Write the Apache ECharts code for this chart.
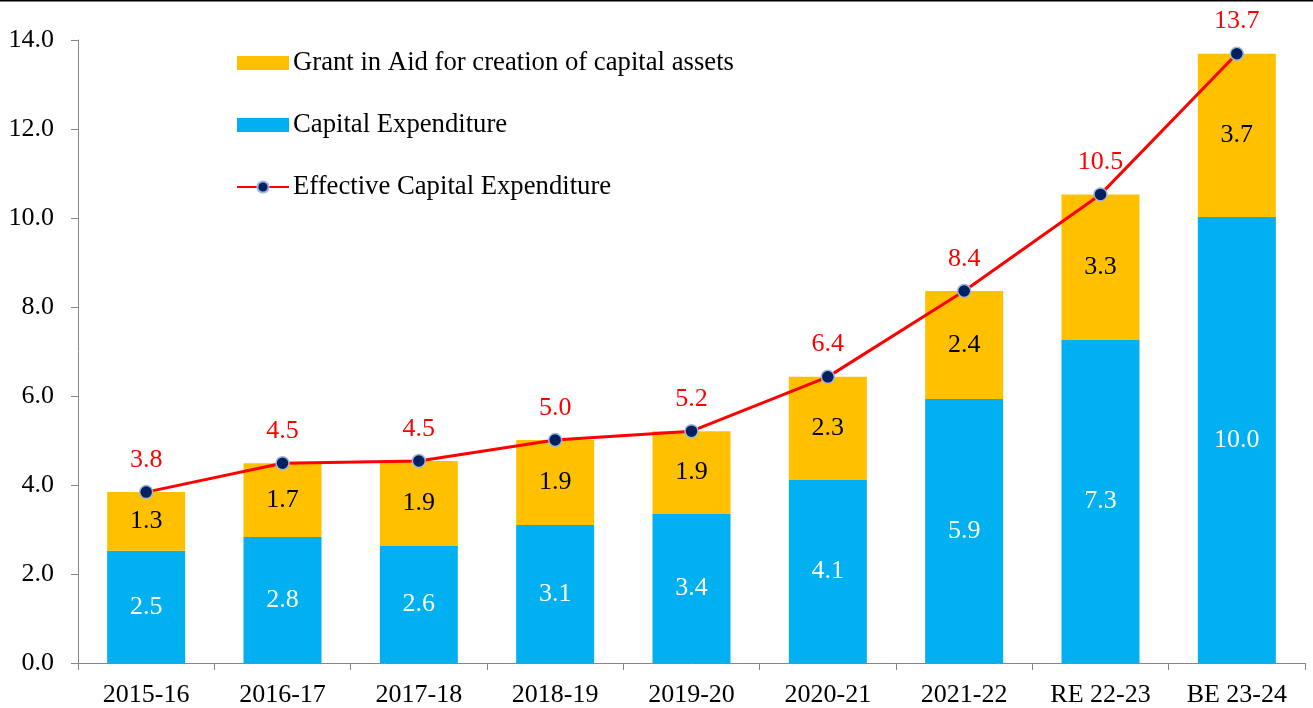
<!DOCTYPE html>
<html>
<head>
<meta charset="utf-8">
<script src="https://cdn.jsdelivr.net/npm/echarts@6/dist/echarts.min.js"></script>
<style>
  html, body { margin: 0; padding: 0; background: #fff; }
  #chart { width: 1313px; height: 708px; }
</style>
</head>
<body>
<div id="chart"></div>
<script>
const years = ['2015-16', '2016-17', '2017-18', '2018-19', '2019-20', '2020-21', '2021-22', 'RE 22-23', 'BE 23-24']
const capitalExp = [2.52, 2.83, 2.63, 3.10, 3.35, 4.11, 5.93, 7.27, 10.02]
const grantInAid = [1.32, 1.66, 1.91, 1.91, 1.86, 2.32, 2.43, 3.26, 3.67]
const effectiveExp = [3.84, 4.49, 4.54, 5.01, 5.21, 6.43, 8.36, 10.53, 13.69]

const font = 'Liberation Serif, Times New Roman, serif'
const fs = 26
const chart = echarts.init(document.getElementById('chart'))

const option = {
  animation: false,
  textStyle: { fontFamily: font },
  // 顶部细黑线
  graphic: [{
    type: 'rect',
    shape: { x: 0, y: 0, width: 1313, height: 1.5 },
    style: { fill: '#000' }
  }],
  grid: { left: 78, right: 8, top: 40, bottom: 45 },
  legend: {
    orient: 'vertical',
    left: 231,
    top: 44,
    itemWidth: 52,
    itemHeight: 14,
    itemGap: 34,
    textStyle: { fontFamily: font, fontSize: 26.7, color: '#000', lineHeight: 28, padding: [0, 0, 0, -1] },
    data: [
      { name: 'Grant in Aid for creation of capital assets', icon: 'rect' },
      { name: 'Capital Expenditure', icon: 'rect' },
      { name: 'Effective Capital Expenditure' }
    ]
  },
  xAxis: {
    type: 'category',
    data: years,
    axisLine: { lineStyle: { color: '#868686', width: 1 } },
    axisTick: { show: true, length: 7, lineStyle: { color: '#868686' } },
    axisLabel: { fontFamily: font, fontSize: fs, color: '#000', margin: 19 }
  },
  yAxis: {
    type: 'value',
    min: 0,
    max: 14,
    interval: 2,
    splitLine: { show: false },
    axisLine: { show: true, lineStyle: { color: '#868686', width: 1 } },
    axisTick: { show: true, length: 7, lineStyle: { color: '#868686' } },
    axisLabel: {
      fontFamily: font, fontSize: fs, color: '#000', margin: 24,
      formatter: (v) => v.toFixed(1)
    }
  },
  series: [
    {
      name: 'Capital Expenditure',
      type: 'bar',
      stack: 'total',
      barWidth: 78,
      data: capitalExp,
      itemStyle: { color: '#00B0F0' },
      label: {
        show: true,
        position: 'inside',
        color: '#fff',
        fontFamily: font,
        fontSize: fs,
        formatter: (p) => p.value.toFixed(1)
      }
    },
    {
      name: 'Grant in Aid for creation of capital assets',
      type: 'bar',
      stack: 'total',
      barWidth: 78,
      data: grantInAid,
      itemStyle: { color: '#FFC000' },
      label: {
        show: true,
        position: 'inside',
        color: '#000',
        fontFamily: font,
        fontSize: fs,
        formatter: (p) => p.value.toFixed(1)
      }
    },
    {
      name: 'Effective Capital Expenditure',
      type: 'line',
      data: effectiveExp,
      symbol: 'circle',
      symbolSize: 13,
      lineStyle: { color: '#FF0000', width: 3 },
      itemStyle: { color: '#002060', borderColor: '#9DB7DF', borderWidth: 1.5 },
      label: {
        show: true,
        position: 'top',
        distance: 12,
        color: '#FF0000',
        fontFamily: font,
        fontSize: fs,
        formatter: (p) => p.value.toFixed(1)
      },
      z: 5
    }
  ]
}

chart.setOption(option)
</script>
</body>
</html>
